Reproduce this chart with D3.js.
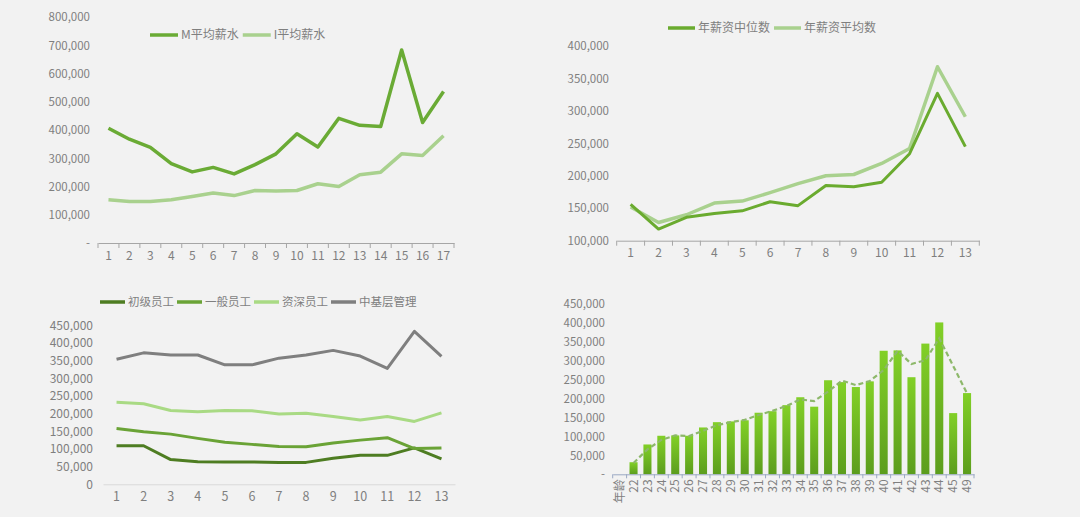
<!DOCTYPE html>
<html lang="zh">
<head>
<meta charset="UTF-8">
<title>薪资统计</title>
<script src="https://cdn.jsdelivr.net/npm/d3@7"></script>
<style>
  html, body { margin: 0; padding: 0; background: #f2f2f2; }
  svg { display: block; }
  text { font-family: "Noto Sans CJK SC", "Noto Sans", sans-serif; fill: #7f7f7f; }
</style>
</head>
<body>
<svg id="chart" width="1080" height="517"></svg>
<script>
// ---------- datos ----------
// panel 1
const cats1 = d3.range(1, 18).map(String);
const mAvg = [407000, 368000, 339000, 281000, 252000, 268000, 245000, 278000, 316000, 387000, 340000, 442000, 417000, 413000, 684000, 427000, 537000];
const iAvg = [153000, 147000, 147000, 153000, 165000, 177000, 168000, 186000, 184000, 186000, 210000, 200000, 242000, 251000, 316000, 310000, 380000];
const names1 = ["M平均薪水", "I平均薪水"];

// panel 2
const cats2 = d3.range(1, 14).map(String);
const median2 = [156000, 118000, 136000, 142000, 146000, 160000, 154000, 185000, 183000, 190000, 234000, 327000, 245000];
const mean2 = [152000, 128000, 140000, 158000, 161000, 174000, 188000, 200000, 202000, 219000, 242000, 368000, 291000];
const names2 = ["年薪资中位数", "年薪资平均数"];

// panel 3
const cats3 = d3.range(1, 14).map(String);
const junior = [109000, 109000, 70000, 64000, 63000, 63000, 62000, 62000, 74000, 82000, 82000, 103000, 72000];
const general = [158000, 149000, 142000, 130000, 119000, 113000, 107000, 106000, 117000, 125000, 132000, 101000, 103000];
const senior = [232000, 228000, 209000, 205000, 209000, 208000, 199000, 201000, 192000, 182000, 192000, 178000, 202000];
const manager = [354000, 372000, 366000, 366000, 338000, 338000, 357000, 366000, 379000, 363000, 328000, 433000, 362000];
const names3 = ["初级员工", "一般员工", "资深员工", "中基层管理"];

// panel 4
const ages = ["年龄", "22", "23", "24", "25", "26", "27", "28", "29", "30", "31", "32", "33", "34", "35", "36", "37", "38", "39", "40", "41", "42", "43", "44", "45", "49"];
const ageSalary = [null, 32000, 79000, 102000, 103000, 102000, 124000, 138000, 140000, 143000, 163000, 167000, 183000, 204000, 179000, 249000, 244000, 231000, 246000, 327000, 328000, 257000, 346000, 402000, 162000, 215000];
const ageTrend = [null, 30000, 66000, 91000, 103000, 101000, 115000, 130000, 138000, 144000, 157000, 168000, 181000, 198000, 194000, 219000, 248000, 236000, 247000, 276000, 327000, 292000, 302000, 360000, 287000, 214000];

// ---------- helpers ----------
const svg = d3.select("#chart");
const fmt = d3.format(",");
const fmtDash = v => v === 0 ? "-" : fmt(v);

function yAxis(y, x0, ticks, f, size) {
  const g = svg.append("g").attr("transform", `translate(${x0},0)`)
    .call(d3.axisLeft(y).tickValues(ticks).tickFormat(f).tickSize(0).tickPadding(0));
  g.select(".domain").remove();
  g.selectAll("text").style("font-size", (size || 11.5) + "px").style("fill", "#7f7f7f");
  return g;
}

function xAxis(x, y0, color, tickLen, size) {
  const g = svg.append("g").attr("transform", `translate(0,${y0})`)
    .call(d3.axisBottom(x).tickSize(0).tickPadding(8));
  g.select(".domain").attr("stroke", color).attr("stroke-width", 1);
  g.selectAll("text").style("font-size", (size || 12) + "px").style("fill", "#7f7f7f");
  if (tickLen) {
    // marcas entre categorías
    const bounds = x.domain().map((d, i) => x.range()[0] + i * x.step());
    bounds.push(x.range()[1]);
    g.selectAll("line.sep").data(bounds).enter().append("line")
      .attr("class", "sep")
      .attr("x1", d => d).attr("x2", d => d)
      .attr("y1", 0).attr("y2", tickLen)
      .attr("stroke", color);
  }
  return g;
}

function legend(items, x0, y0, sw, gap, size) {
  let x = x0;
  items.forEach(it => {
    svg.append("line").attr("x1", x).attr("x2", x + sw).attr("y1", y0).attr("y2", y0)
      .attr("stroke", it.color).attr("stroke-width", 3.5);
    const t = svg.append("text").attr("x", x + sw + 3).attr("y", y0).attr("dy", "0.35em")
      .style("font-size", (size || 12) + "px").text(it.name);
    x += sw + 3 + t.node().getComputedTextLength() + gap;
  });
}

function drawLine(x, y, cats, vals, color, width, dash) {
  const line = d3.line()
    .defined(d => d[1] != null)
    .x(d => x(d[0]) + x.bandwidth() / 2)
    .y(d => y(d[1]));
  svg.append("path")
    .datum(cats.map((c, i) => [c, vals[i]]))
    .attr("d", line)
    .attr("fill", "none")
    .attr("stroke", color)
    .attr("stroke-width", width)
    .attr("stroke-linejoin", "round")
    .attr("stroke-dasharray", dash || null);
}

// ---------- panel 1 ----------
{
  const x = d3.scaleBand().domain(cats1).range([98, 454]);
  const y = d3.scaleLinear().domain([0, 800000]).range([243, 17.3]);
  yAxis(y, 90, d3.range(0, 800001, 100000), fmtDash);
  xAxis(x, 243, "#a6a6a6", 5);
  drawLine(x, y, cats1, iAvg, "#a9d18e", 3.5);
  drawLine(x, y, cats1, mAvg, "#6aab35", 3.5);
  legend([{ name: names1[0], color: "#6aab35" }, { name: names1[1], color: "#a9d18e" }], 150, 35, 28, 4);
}

// ---------- panel 2 ----------
{
  const x = d3.scaleBand().domain(cats2).range([616.7, 979.3]);
  const y = d3.scaleLinear().domain([100000, 400000]).range([240.7, 46]);
  yAxis(y, 609, d3.range(100000, 400001, 50000), fmt);
  xAxis(x, 240.7, "#a6a6a6", 5);
  drawLine(x, y, cats2, mean2, "#a9d18e", 3.5);
  drawLine(x, y, cats2, median2, "#6aab2f", 3);
  legend([{ name: names2[0], color: "#6aab2f" }, { name: names2[1], color: "#a9d18e" }], 668, 28, 27, 4);
}

// ---------- panel 3 ----------
{
  const x = d3.scaleBand().domain(cats3).range([103, 455]);
  const y = d3.scaleLinear().domain([0, 450000]).range([484.3, 325.3]);
  yAxis(y, 93, d3.range(0, 450001, 50000), fmt, 12);
  xAxis(x, 484.3, "#d9d9d9", 0, 12.5);
  const colors3 = ["#4e7d22", "#6aa336", "#a9da84", "#7f7f7f"];
  [junior, general, senior, manager].forEach((s, i) => drawLine(x, y, cats3, s, colors3[i], 3));
  legend(names3.map((n, i) => ({ name: n, color: colors3[i] })), 100, 302, 25, 3, 11.5);
}

// ---------- panel 4 ----------
{
  const x = d3.scaleBand().domain(ages).range([612.7, 974]).paddingInner(0.42).paddingOuter(0.21);
  const y = d3.scaleLinear().domain([0, 450000]).range([474.3, 304.3]);
  const grad = svg.append("defs").append("linearGradient")
    .attr("id", "barGrad").attr("x1", 0).attr("y1", 0).attr("x2", 0).attr("y2", 1);
  grad.append("stop").attr("offset", "0%").attr("stop-color", "#82d027");
  grad.append("stop").attr("offset", "100%").attr("stop-color", "#5c9d1d");

  yAxis(y, 605, d3.range(0, 450001, 50000), fmtDash);

  svg.append("g").selectAll("rect")
    .data(ages.map((a, i) => ({ a, v: ageSalary[i] })).filter(d => d.v != null))
    .enter().append("rect")
    .attr("x", d => x(d.a))
    .attr("width", x.bandwidth())
    .attr("y", d => y(d.v))
    .attr("height", d => y(0) - y(d.v))
    .attr("fill", "url(#barGrad)");

  const xb = d3.scaleBand().domain(ages).range([612.7, 974]);
  const g = svg.append("g").attr("transform", "translate(0,474.3)")
    .call(d3.axisBottom(x).tickSize(0).tickPadding(6));
  g.select(".domain").attr("stroke", "#9aa8c4");
  const bounds = ages.map((d, i) => 612.7 + i * xb.step()).concat([974]);
  g.selectAll("line.sep").data(bounds).enter().append("line")
    .attr("x1", d => d).attr("x2", d => d).attr("y1", 0).attr("y2", 4)
    .attr("stroke", "#9aa8c4");
  g.selectAll(".tick text")
    .style("font-size", "12px").style("fill", "#7f7f7f")
    .attr("transform", "rotate(-90)")
    .attr("text-anchor", "end")
    .attr("x", -5).attr("y", 0).attr("dy", "0.35em");

  // línea de tendencia (media móvil)
  const trendLine = d3.line()
    .defined(d => d[1] != null)
    .x(d => x(d[0]) + x.bandwidth() / 2)
    .y(d => y(d[1]));
  svg.append("path")
    .datum(ages.map((a, i) => [a, ageTrend[i]]))
    .attr("d", trendLine)
    .attr("fill", "none")
    .attr("stroke", "#8db86a")
    .attr("stroke-width", 2.2)
    .attr("stroke-dasharray", "5,3");
}
</script>
</body>
</html>
